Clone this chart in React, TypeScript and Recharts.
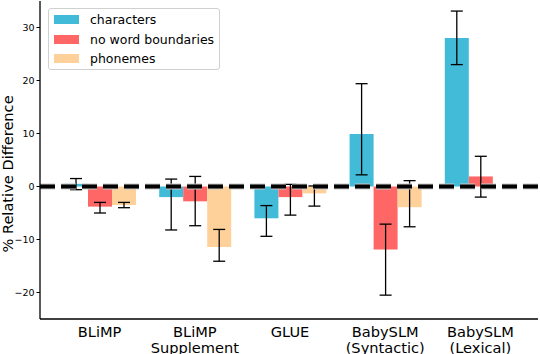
import React from 'react';
import {
  BarChart,
  Bar,
  XAxis,
  YAxis,
  ErrorBar,
  ReferenceLine,
  Legend,
} from 'recharts';

const categories = ['BLiMP', 'BLiMP\nSupplement', 'GLUE', 'BabySLM\n(Syntactic)', 'BabySLM\n(Lexical)'];

const characters = [0.5, -2.0, -6.0, 9.9, 28.0];
const charactersLow = [-0.6, -8.2, -9.4, 2.2, 23.0];
const charactersHigh = [1.5, 1.4, -3.6, 19.4, 33.1];

const noBoundaries = [-3.8, -2.8, -2.0, -11.9, 1.9];
const noBoundariesLow = [-5.0, -7.4, -5.4, -20.5, -2.0];
const noBoundariesHigh = [-3.0, 1.9, 0.4, -7.1, 5.7];

const phonemes = [-3.5, -11.4, -1.3, -3.9, 0];
const phonemesLow = [-4.0, -14.1, -3.7, -7.6, 0];
const phonemesHigh = [-3.0, -8.1, 0.1, 1.1, 0];

const yTicks = [-20, -10, 0, 10, 20, 30];

const series = [
  { key: 'characters', label: 'characters', color: '#42bbd9' },
  { key: 'noBoundaries', label: 'no word boundaries', color: '#ff6666' },
  { key: 'phonemes', label: 'phonemes', color: '#fed19a' },
];

const FONT = '"DejaVu Sans", sans-serif';

const data = categories.map((name, i) => ({
  name,
  characters: characters[i],
  charactersErr: [characters[i] - charactersLow[i], charactersHigh[i] - characters[i]],
  noBoundaries: noBoundaries[i],
  noBoundariesErr: [noBoundaries[i] - noBoundariesLow[i], noBoundariesHigh[i] - noBoundaries[i]],
  phonemes: phonemes[i],
  phonemesErr: [phonemes[i] - phonemesLow[i], phonemesHigh[i] - phonemes[i]],
}));

const formatY = (v: number) => (v < 0 ? `\u2212${Math.abs(v)}` : `${v}`);

function CategoryTick({ x, y, payload }: any) {
  const lines = String(payload.value).split('\n');
  return (
    <text x={x} y={y} textAnchor="middle" fontFamily={FONT} fontSize={14.6} fill="#000">
      {lines.map((line, i) => (
        <tspan key={i} x={x} dy={i === 0 ? 9.5 : 16}>
          {line}
        </tspan>
      ))}
    </text>
  );
}

function LegendBox() {
  return (
    <div
      style={{
        boxSizing: 'border-box',
        border: '1px solid #d0d0d0',
        borderRadius: 3,
        background: 'rgba(255,255,255,0.85)',
        padding: '1px 6px 0 5px',
        fontFamily: FONT,
        fontSize: 12.5,
        width: 172,
        height: 62,
        whiteSpace: 'nowrap',
      }}
    >
      {series.map((s) => (
        <div key={s.key} style={{ display: 'flex', alignItems: 'center', height: 19.5 }}>
          <span style={{ width: 25, height: 9, background: s.color, marginRight: 11, flexShrink: 0 }} />
          <span>{s.label}</span>
        </div>
      ))}
    </div>
  );
}

export default function App() {
  return (
    <div style={{ width: 540, height: 354, background: '#fff' }}>
      <style>{'body { margin: 0; }'}</style>
      <BarChart
        width={540}
        height={354}
        data={data}
        margin={{ top: 1, right: 2, left: 0, bottom: 0 }}
        barGap={0}
        barSize={24}
      >
        <XAxis
          dataKey="name"
          interval={0}
          height={35}
          padding={{ left: 12, right: 10 }}
          tickLine={false}
          axisLine={{ stroke: '#000', strokeWidth: 1.3 }}
          tick={<CategoryTick />}
        />
        <YAxis
          width={40}
          domain={[-25, 35]}
          ticks={yTicks}
          tickFormatter={formatY}
          tickSize={3.5}
          tickMargin={2}
          axisLine={{ stroke: '#000', strokeWidth: 1.3 }}
          tickLine={{ stroke: '#000' }}
          tick={{ fill: '#000', fontSize: 9.5, fontFamily: FONT }}
          label={{
            content: () => (
              <text
                x={13}
                y={174}
                transform="rotate(-90 13 174)"
                textAnchor="middle"
                fontFamily={FONT}
                fontSize={14.6}
                fill="#000"
              >
                % Relative Difference
              </text>
            ),
          }}
        />
        <YAxis
          yAxisId="frame"
          orientation="right"
          width={0}
          tick={false}
          tickLine={false}
          axisLine={{ stroke: '#000', strokeWidth: 1.3 }}
        />
        {series.map((s) => (
          <Bar key={s.key} dataKey={s.key} name={s.label} fill={s.color} isAnimationActive={false}>
            <ErrorBar dataKey={`${s.key}Err`} width={6} stroke="#000" strokeWidth={1.3} />
          </Bar>
        ))}
        <ReferenceLine y={0} stroke="#c8c8c8" strokeWidth={6} strokeDasharray="15 6" ifOverflow="visible" />
        <ReferenceLine y={0} stroke="#000" strokeWidth={4} strokeDasharray="15 6" ifOverflow="visible" />
        <Legend
          layout="vertical"
          align="center"
          verticalAlign="middle"
          content={() => <LegendBox />}
          wrapperStyle={{ position: 'absolute', left: 48, top: 8, width: 'auto' }}
        />
      </BarChart>
    </div>
  );
}
